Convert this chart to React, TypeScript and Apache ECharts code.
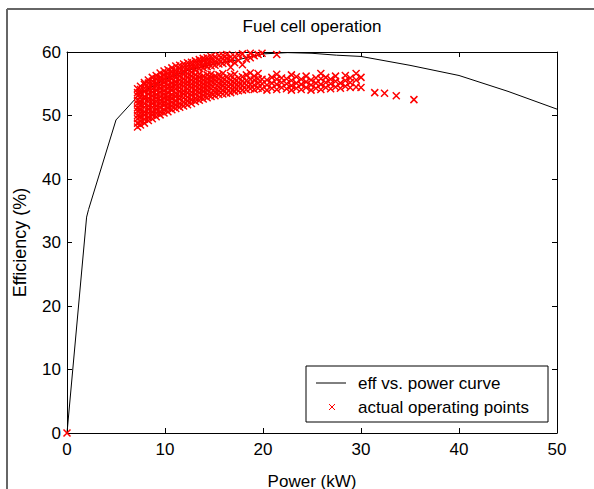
import React, { useEffect, useRef } from "react";
import * as echarts from "echarts";

const curvePower = [0, 2, 2.2, 5, 7.5, 10, 12.5, 15, 17.5, 20, 22.5, 25, 27.5, 30, 35, 40, 45, 50];
const curveEff = [0, 34, 35.2, 49.3, 53.5, 55.7, 57.2, 58.1, 58.8, 59.7, 59.9, 59.8, 59.5, 59.3, 57.9, 56.3, 53.8, 51.0];

// operating points, grouped by power column: [power, efficiencies]
const cloudColumns: [number, number[]][] = [
  [7.2, [48.2, 48.8, 49.5, 50.0, 50.7, 51.2, 51.9, 52.4, 53.1, 53.6, 54.2]],
  [7.5, [48.5, 49.1, 49.8, 50.4, 51.0, 51.7, 52.2, 52.9, 53.5, 54.1, 54.6]],
  [7.9, [48.8, 49.4, 50.1, 50.6, 51.3, 51.9, 52.6, 53.0, 53.8, 54.3, 54.9, 55.2]],
  [8.3, [49.2, 49.7, 50.4, 51.0, 51.5, 52.2, 52.7, 53.4, 54.0, 54.5, 55.1, 55.6]],
  [8.7, [49.5, 50.1, 50.6, 51.3, 51.9, 52.4, 53.1, 53.7, 54.2, 54.9, 55.4, 56.0]],
  [9.1, [49.8, 50.4, 51.0, 51.5, 52.2, 52.8, 53.3, 54.0, 54.6, 55.1, 55.8, 56.3]],
  [9.5, [50.1, 50.6, 51.3, 51.9, 52.4, 53.0, 53.7, 54.3, 54.8, 55.5, 56.0, 56.7]],
  [9.9, [50.4, 50.9, 51.6, 52.1, 52.8, 53.4, 53.9, 54.6, 55.2, 55.7, 56.4, 57.0]],
  [10.3, [50.6, 51.2, 51.8, 52.5, 53.0, 53.6, 54.3, 54.8, 55.5, 56.1, 56.6, 57.2]],
  [10.7, [50.9, 51.5, 52.1, 52.7, 53.3, 54.0, 54.5, 55.1, 55.8, 56.3, 56.9, 57.5]],
  [11.1, [51.1, 51.7, 52.3, 53.0, 53.5, 54.2, 54.8, 55.3, 56.0, 56.6, 57.1, 57.8]],
  [11.5, [51.3, 51.9, 52.6, 53.1, 53.8, 54.4, 55.0, 55.6, 56.2, 56.8, 57.4, 57.9]],
  [11.9, [51.5, 52.1, 52.8, 53.4, 53.9, 54.6, 55.2, 55.8, 56.5, 57.0, 57.6, 58.1]],
  [12.3, [51.7, 52.3, 52.9, 53.6, 54.2, 54.8, 55.3, 56.0, 56.6, 57.3, 57.8, 58.3]],
  [12.7, [51.9, 52.5, 53.2, 53.7, 54.4, 55.0, 55.6, 56.2, 56.8, 57.5, 58.0, 58.4]],
  [13.1, [52.2, 52.7, 53.4, 54.0, 54.6, 55.2, 55.8, 56.4, 57.2, 57.7, 58.2, 58.6]],
  [13.5, [52.4, 52.9, 53.6, 54.2, 54.8, 55.4, 56.0, 56.5, 57.4, 57.9, 58.4, 58.8]],
  [13.9, [52.6, 53.2, 53.8, 54.4, 55.0, 55.6, 56.2, 57.5, 58.0, 58.6, 59.0]],
  [14.3, [52.8, 53.4, 54.0, 54.6, 55.2, 55.8, 56.4, 57.7, 58.2, 58.7, 59.1]],
  [14.7, [53.0, 53.5, 54.2, 54.8, 55.4, 56.0, 56.5, 57.8, 58.4, 58.9, 59.3]],
  [15.1, [53.1, 53.7, 54.3, 55.0, 55.6, 56.2, 57.9, 58.5, 59.2]],
  [15.5, [53.3, 53.9, 54.5, 55.1, 55.8, 56.4, 58.1, 58.7, 59.4]],
  [15.9, [53.4, 54.0, 54.7, 55.3, 55.9, 56.6, 58.2, 58.9, 59.5]],
  [16.3, [53.5, 54.2, 54.8, 55.4, 56.1, 58.4, 59.0, 59.6]],
  [16.7, [53.6, 54.3, 54.9, 55.6, 56.3, 57.6, 58.6, 59.2]],
  [17.1, [53.8, 54.4, 55.1, 55.7, 56.5, 58.3, 59.3]],
  [17.5, [53.9, 54.6, 55.2, 55.9, 58.7, 59.5]],
  [17.9, [54.0, 54.7, 55.4, 56.1, 58.0, 59.7]],
  [18.3, [54.1, 54.8, 55.5, 56.4, 58.9]],
  [18.7, [54.2, 54.9, 55.7, 56.7, 59.1, 59.8]],
  [19.1, [54.1, 54.8, 55.6, 56.2, 59.4]],
  [19.5, [54.3, 55.1, 55.8, 56.6, 59.6]],
  [19.9, [54.2, 55.0, 55.7, 59.8]],
  [20.4, [54.0, 54.8, 55.6]],
  [20.9, [54.3, 55.1, 56.0]],
  [21.4, [54.1, 54.9, 55.7, 56.5]],
  [21.9, [54.4, 55.2, 55.9]],
  [22.4, [54.2, 55.0, 55.8]],
  [22.9, [54.0, 54.7, 55.5, 56.4]],
  [23.4, [54.3, 55.1, 56.1]],
  [23.9, [54.1, 54.9, 55.7]],
  [24.4, [54.4, 55.3, 56.2]],
  [24.9, [54.0, 54.8, 55.6]],
  [25.4, [54.3, 55.1, 55.9]],
  [25.9, [54.1, 54.9, 55.8, 56.6]],
  [26.4, [54.4, 55.2, 56.0]],
  [26.9, [54.2, 55.0, 55.7]],
  [27.4, [54.5, 55.4, 56.2]],
  [27.9, [54.3, 55.1]],
  [28.4, [54.6, 55.5, 56.3]],
  [28.9, [54.4, 55.2, 55.9]],
  [29.5, [54.5, 55.6, 56.6]],
  [30.0, [54.4, 56.0]],
];

const outlierPoints: [number, number][] = [
  [0, 0], [21.4, 59.6], [31.4, 53.6], [32.4, 53.5], [33.6, 53.1], [35.4, 52.5],
];

const xTickValues = [0, 10, 20, 30, 40, 50];
const yTickValues = [0, 10, 20, 30, 40, 50, 60];

const titleText = "Fuel cell operation";
const xName = "Power (kW)";
const yName = "Efficiency (%)";
const legendNames = ["eff vs. power curve", "actual operating points"];

const FONT = '"Liberation Sans", Arial, sans-serif';

export default function App() {
  const ref = useRef<HTMLDivElement>(null);
  useEffect(() => {
    document.body.style.margin = "0";
    const chart = echarts.init(ref.current!, undefined, { renderer: "svg" });
    const scatterData: [number, number][] = [];
    cloudColumns.forEach(([p, effs]) => effs.forEach((e) => scatterData.push([p, e])));
    outlierPoints.forEach((pt) => scatterData.push(pt));
    const lineData = curvePower.map((p, i) => [p, curveEff[i]]);

    const left = 67, top = 52, width = 490, height = 381;
    const cx = left + width / 2;
    const fs = 17;

    const axisCommon = {
      type: "value" as const,
      splitLine: { show: false },
      axisLine: { show: true, onZero: false, lineStyle: { color: "#000", width: 1 } },
      axisTick: { show: true, inside: true, length: 5, lineStyle: { color: "#000" } },
    };

    chart.setOption({
      animation: false,
      backgroundColor: "#fff",
      textStyle: { fontFamily: FONT },
      grid: { left, top, width, height, show: false },
      xAxis: [
        {
          ...axisCommon, min: xTickValues[0], max: xTickValues[xTickValues.length - 1], interval: 10,
          position: "bottom",
          axisLabel: { color: "#000", fontSize: fs, margin: 8, fontFamily: FONT },
        },
        {
          ...axisCommon, min: xTickValues[0], max: xTickValues[xTickValues.length - 1], interval: 10,
          position: "top", axisLabel: { show: false },
        },
      ],
      yAxis: [
        {
          ...axisCommon, min: yTickValues[0], max: yTickValues[yTickValues.length - 1], interval: 10,
          position: "left",
          axisLabel: { color: "#000", fontSize: fs, margin: 6, fontFamily: FONT },
        },
        {
          ...axisCommon, min: yTickValues[0], max: yTickValues[yTickValues.length - 1], interval: 10,
          position: "right", axisLabel: { show: false },
        },
      ],
      series: [
        {
          name: legendNames[0], type: "line", data: lineData, symbol: "none",
          lineStyle: { color: "#000", width: 1 }, z: 2,
        },
        {
          name: legendNames[1], type: "scatter", data: scatterData,
          symbol: "path://M0,0L10,10M10,0L0,10", symbolSize: 7,
          itemStyle: { color: "rgba(0,0,0,0)", borderColor: "#ff0000", borderWidth: 1.5, opacity: 1 },
          z: 3,
        },
      ],
      graphic: [
        { type: "line", shape: { x1: 7, y1: 9, x2: 594, y2: 9 }, style: { stroke: "#666", lineWidth: 2 } },
        { type: "line", shape: { x1: 7, y1: 9, x2: 7, y2: 489 }, style: { stroke: "#666", lineWidth: 2 } },
        {
          type: "text", x: cx, y: 26,
          style: { text: titleText, fontSize: fs, fontFamily: FONT, fill: "#000", align: "center", verticalAlign: "middle" },
        },
        {
          type: "text", x: cx, y: 481,
          style: { text: xName, fontSize: fs, fontFamily: FONT, fill: "#000", align: "center", verticalAlign: "middle" },
        },
        {
          type: "text", x: 20, y: top + height / 2, rotation: Math.PI / 2,
          style: { text: yName, fontSize: 18, fontFamily: FONT, fill: "#000", align: "center", verticalAlign: "middle" },
        },
        {
          type: "group", z: 100,
          children: [
            { type: "rect", shape: { x: 306, y: 366, width: 242, height: 56 }, style: { fill: "#fff", stroke: "#000", lineWidth: 1 } },
            { type: "line", shape: { x1: 316, y1: 383, x2: 346, y2: 383 }, style: { stroke: "#000", lineWidth: 1 } },
            {
              type: "text", x: 358, y: 383,
              style: { text: legendNames[0], fontSize: fs, fontFamily: FONT, fill: "#000", verticalAlign: "middle" },
            },
            { type: "line", shape: { x1: 329, y1: 404, x2: 335, y2: 410 }, style: { stroke: "#ff0000", lineWidth: 1 } },
            { type: "line", shape: { x1: 335, y1: 404, x2: 329, y2: 410 }, style: { stroke: "#ff0000", lineWidth: 1 } },
            {
              type: "text", x: 358, y: 407,
              style: { text: legendNames[1], fontSize: fs, fontFamily: FONT, fill: "#000", verticalAlign: "middle" },
            },
          ],
        },
      ],
    });
    return () => chart.dispose();
  }, []);
  return <div ref={ref} style={{ width: 594, height: 489 }} />;
}
